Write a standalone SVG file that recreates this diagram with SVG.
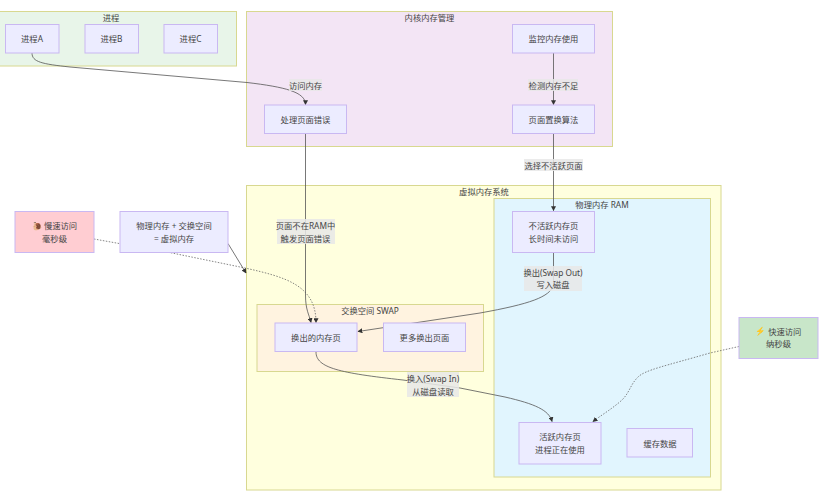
<svg xmlns="http://www.w3.org/2000/svg" width="830" height="491" viewBox="0 0 830 491">
<style>
text{font-family:"Noto Sans","Noto Sans CJK SC",sans-serif;font-size:8.3px;fill:#444;text-anchor:middle;dominant-baseline:central}
.n{fill:#ececff;stroke:#c9b8f2;stroke-width:1}
.c{stroke:#d8d890;stroke-width:1}
.e{fill:none;stroke:#555;stroke-width:.8}
.d{fill:none;stroke:#666;stroke-width:.8;stroke-dasharray:1.5 1.5}
.l{fill:#e8e8e8;fill-opacity:.85}
.em{font-family:"Noto Color Emoji","Noto Sans",sans-serif;fill:#f4793b}
</style>
<defs>
<marker id="a" viewBox="0 0 8 8" refX="7" refY="4" markerWidth="5" markerHeight="5" markerUnits="userSpaceOnUse" orient="auto"><path d="M0,0L8,4L0,8z" fill="#333"/></marker>
</defs>
<g id="clusters">
<rect class="c" x="-5" y="11.5" width="241.500" height="54.500" fill="#e8f5e9"/>
<rect class="c" x="246.500" y="11.500" width="366" height="135" fill="#f3e5f5"/>
<rect class="c" x="246.500" y="185.500" width="474.500" height="304.500" fill="#ffffde"/>
<rect class="c" x="494" y="198.500" width="216.500" height="278.500" fill="#e1f5fe"/>
<rect class="c" x="257" y="304.500" width="226.500" height="67" fill="#fff3e0"/>
<text x="111" y="17">进程</text>
<text x="429.500" y="17">内核内存管理</text>
<text x="484" y="191">虚拟内存系统</text>
<text x="602" y="204">物理内存 RAM</text>
<text x="370" y="310">交换空间 SWAP</text>
</g>
<g id="connectors">
<path class="e" marker-end="url(#a)" d="M32,53C32,62 42,64 70,67L247,82.500C285,87 305.500,92 305.500,104.500"/>
<path class="e" marker-end="url(#a)" d="M553.500,53V104.500"/>
<path class="e" marker-end="url(#a)" d="M553.500,133V210.500"/>
<path class="e" marker-end="url(#a)" d="M305.500,133V295C305.500,310 309,314 311,322.500"/>
<path class="d" marker-end="url(#a)" d="M94,239L172,253L245,268C285,277 316,285 316,322.500"/>
<path class="e" marker-end="url(#a)" d="M228,243.500L246,273"/>
<path class="e" marker-end="url(#a)" d="M553.500,252V285C550,297 530,304 480,313L358,331.500"/>
<path class="e" marker-end="url(#a)" d="M316,352C316,368 340,373 403,380L460,388L505,397C535,404 549,410 552,421.500"/>
<path class="d" marker-end="url(#a)" d="M739,346.500L710,353C665,366 645,370 638,377C630,385 630,392 622,400C612,409 600,416 593,421.500"/>
</g>
<g id="edge-labels">
<g><rect class="l" x="289" y="79" width="33" height="12"/><text x="305.500" y="85">访问内存</text></g>
<g><rect class="l" x="528" y="79" width="50" height="12"/><text x="553.500" y="85">检测内存不足</text></g>
<g><rect class="l" x="524" y="159" width="59" height="12"/><text x="553.500" y="165">选择不活跃页面</text></g>
<g><rect class="l" x="277" y="219" width="58" height="25"/><text x="305.500" y="225.500">页面不在RAM中</text><text x="305.500" y="238">触发页面错误</text></g>
<g><rect class="l" x="524" y="266" width="58" height="25"/><text x="553" y="272">换出(Swap Out)</text><text x="553" y="284.500">写入磁盘</text></g>
<g><rect class="l" x="407" y="372" width="52" height="25"/><text x="433" y="378">换入(Swap In)</text><text x="433" y="391">从磁盘读取</text></g>
</g>
<g id="pA"><rect class="n" x="5.500" y="24.500" width="53.500" height="28.500"/><text x="32" y="38.500">进程A</text></g>
<g id="pB"><rect class="n" x="85" y="24.500" width="53.500" height="28.500"/><text x="111.500" y="38.500">进程B</text></g>
<g id="pC"><rect class="n" x="164" y="24.500" width="53.500" height="28.500"/><text x="190.500" y="38.500">进程C</text></g>
<g id="pageFault"><rect class="n" x="264.500" y="105" width="82" height="28.500"/><text x="305.500" y="119">处理页面错误</text></g>
<g id="monitor"><rect class="n" x="512.500" y="24.500" width="82" height="28.500"/><text x="553.500" y="38.500">监控内存使用</text></g>
<g id="replace"><rect class="n" x="512.500" y="105" width="82" height="28.500"/><text x="553.500" y="119">页面置换算法</text></g>
<g id="inactive"><rect class="n" x="512.500" y="211.500" width="82" height="41"/><text x="553.500" y="225.500">不活跃内存页</text><text x="553.500" y="238">长时间未访问</text></g>
<g id="active"><rect class="n" x="519" y="422.500" width="82" height="41.500"/><text x="560" y="436.500">活跃内存页</text><text x="560" y="449">进程正在使用</text></g>
<g id="cache"><rect class="n" x="627" y="428.500" width="65.500" height="28.500"/><text x="660" y="443">缓存数据</text></g>
<g id="swapped"><rect class="n" x="275" y="323" width="82" height="28.500"/><text x="316" y="337">换出的内存页</text></g>
<g id="more"><rect class="n" x="383.500" y="323" width="82" height="28.500"/><text x="424.500" y="337">更多换出页面</text></g>
<g id="slow"><rect class="n" x="15" y="211.500" width="79" height="41" style="fill:#ffcdd2"/><text x="54.500" y="225.500">🐌 慢速访问</text><text x="54.500" y="238">毫秒级</text></g>
<g id="sum"><rect class="n" x="120" y="211.500" width="108" height="41"/><text x="174" y="225.500">物理内存 + 交换空间</text><text x="174" y="238">= 虚拟内存</text></g>
<g id="fast"><rect class="n" x="739" y="317.500" width="79" height="41" style="fill:#c8e6c9"/><text x="778.500" y="331"><tspan class="em">⚡</tspan> 快速访问</text><text x="778.500" y="343.500">纳秒级</text></g>
</svg>
